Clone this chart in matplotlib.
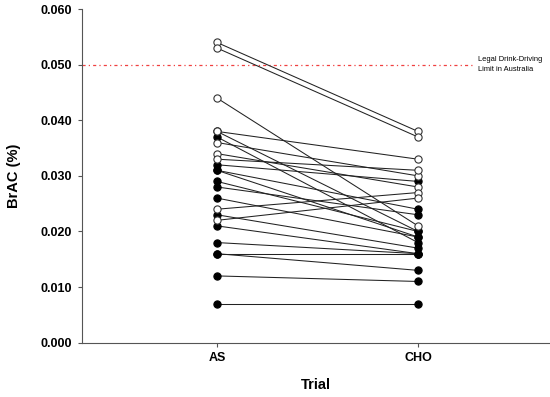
import matplotlib
matplotlib.use("Agg")
import matplotlib.pyplot as plt

plt.rcParams['font.family'] = ['Liberation Sans', 'DejaVu Sans']

trials = ["AS", "CHO"]
# open-circle subjects
as_open = [0.054, 0.053, 0.044, 0.038, 0.036, 0.034, 0.033, 0.024, 0.022]
cho_open = [0.038, 0.037, 0.021, 0.033, 0.030, 0.028, 0.031, 0.027, 0.026]
# filled-circle subjects
as_filled = [0.038, 0.037, 0.032, 0.031, 0.031, 0.029, 0.028, 0.026, 0.023,
             0.021, 0.018, 0.016, 0.016, 0.012, 0.007]
cho_filled = [0.020, 0.018, 0.029, 0.024, 0.019, 0.020, 0.023, 0.019, 0.017,
              0.016, 0.016, 0.013, 0.016, 0.011, 0.007]
limit = 0.050
yticks = [0.000, 0.010, 0.020, 0.030, 0.040, 0.050, 0.060]

fig = plt.figure(figsize=(5.5, 3.97), dpi=100)
ax = fig.add_axes([0.149, 0.137, 0.851, 0.840])

xpos = [1, 2]
for a, c in zip(as_filled, cho_filled):
    ax.plot(xpos, [a, c], color='#222222', lw=0.75, marker='o', ms=5.2,
            mfc='black', mec='black', mew=0.8, zorder=3)
for a, c in zip(as_open, cho_open):
    ax.plot(xpos, [a, c], color='#222222', lw=0.75, marker='o', ms=5.2,
            mfc='white', mec='#333333', mew=0.8, zorder=4)

ax.plot([0.33, 2.27], [limit, limit], color='#f04040', lw=0.9,
        linestyle=(0, (2.5, 2.5, 1, 2.5)), zorder=2)
ax.text(2.30, limit, "Legal Drink-Driving\nLimit in Australia", fontsize=5.4,
        va='center', ha='left', linespacing=1.6)

ax.set_xlim(0.328, 2.657)
ax.set_ylim(0, 0.060)
ax.set_xticks(xpos)
ax.set_xticklabels(trials, fontsize=9, fontweight='bold')
ax.set_yticks(yticks)
ax.set_yticklabels([f"{v:.3f}" for v in yticks], fontsize=9, fontweight='bold')
ax.tick_params(direction='out', length=3, width=0.8, color='#555555', pad=4)
for s in ['top', 'right']:
    ax.spines[s].set_visible(False)
for s in ['left', 'bottom']:
    ax.spines[s].set_color('#555555')
    ax.spines[s].set_linewidth(0.8)

ax.set_xlabel("Trial", fontsize=10.5, fontweight='bold', labelpad=10)
ax.set_ylabel("BrAC (%)", fontsize=10.5, fontweight='bold', labelpad=14)

fig.savefig("out.png", dpi=100)
